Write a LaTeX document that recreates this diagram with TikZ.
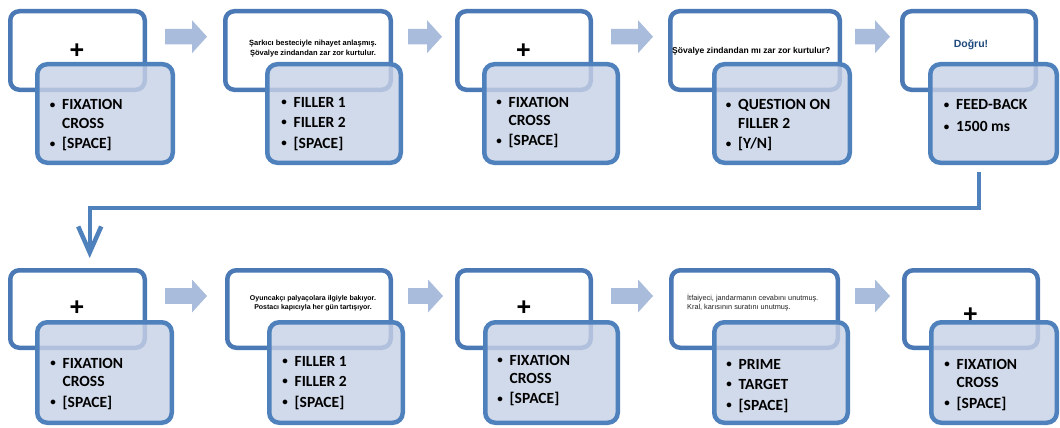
\documentclass[tikz,border=0pt]{standalone}
\usepackage{fontspec}
\setmainfont{Carlito}
\newfontfamily\arialfont{Liberation Sans}
\usetikzlibrary{arrows.meta}

\definecolor{screenedge}{HTML}{4A79B5}
\definecolor{paneledge}{HTML}{4F81BD}
\definecolor{panelfill}{RGB}{200,210,230}
\definecolor{chevron}{RGB}{169,188,219}
\definecolor{feedbackblue}{HTML}{1F497D}
\definecolor{linkblue}{HTML}{4F81BD}

% bullet marker and its indent for continuation lines
\newcommand\bul{\makebox[13.5pt][l]{\hspace{1.2pt}\raisebox{1.6pt}{\fontsize{11}{11}\selectfont•}}}
\newcommand\nob{\hspace*{13.5pt}}

% a screen (white) or panel (blue) box given by its outer pixel edges
\newcommand\slidebox[6]{%
  \node[#1, minimum width={#5-#3-4.5}, minimum height={#6-#4-4.5}]
    (#2) at ({(#3+#5)/2},{(#4+#6)/2}) {};}

% light block arrow pointing right between two screens
\newcommand\blockarrow[3]{%
  \fill[chevron] (#1,{#3-7.8}) -- ({#2-15},{#3-7.8}) -- ({#2-15},{#3-16.5})
    -- (#2,#3) -- ({#2-15},{#3+16.5}) -- ({#2-15},{#3+7.8}) -- (#1,{#3+7.8}) -- cycle;}

\tikzset{
  screen/.style={draw=screenedge, line width=4.5pt, rounded corners=9pt,
    fill=white, inner sep=0pt},
  panel/.style={draw=paneledge, line width=4.5pt, rounded corners=10pt,
    fill=panelfill, fill opacity=0.82, inner sep=0pt},
  bullets/.style={anchor=base west, inner sep=0pt,
    font=\bfseries\fontsize{15.5}{18.3}\selectfont},
  plus/.style={anchor=base, inner sep=0pt,
    font=\arialfont\bfseries\fontsize{25}{25}\selectfont},
  sentence/.style={inner sep=0pt, font=\arialfont\bfseries\fontsize{7.5}{10}\selectfont},
  link/.style={draw=linkblue, line width=4pt},
  linkshadow/.style={draw=black, line width=4pt, opacity=0.12},
}

\begin{document}
\begin{tikzpicture}[x=1pt, y=-1pt]
\useasboundingbox (0,0) rectangle (1060,428);
\fill[white] (0,0) rectangle (1060,428);

% ---------- first row ----------
\slidebox{screen}{s1}{8}{9}{147}{92}
\slidebox{panel}{p1}{35}{62}{175}{165}
\slidebox{screen}{s2}{223}{9}{393}{92}
\slidebox{panel}{p2}{265}{62}{403}{165}
\slidebox{screen}{s3}{455}{9}{593}{92}
\slidebox{panel}{p3}{482}{62}{620}{165}
\slidebox{screen}{s4}{668}{9}{842}{92}
\slidebox{panel}{p4}{712}{62}{852}{165}
\slidebox{screen}{s5}{900}{9}{1038}{92}
\slidebox{panel}{p5}{928}{62}{1059}{165}

\blockarrow{165}{207}{36.7}
\blockarrow{408}{442}{36.7}
\blockarrow{611}{653}{36.7}
\blockarrow{855}{890}{36.7}

\node[plus] (x1) at (77,58.8) {+};
\node[plus] (x3) at (523.5,58.8) {+};
\node[sentence, anchor=base] (q2) at (313,45.5)
  {\begin{tabular}[t]{@{}c@{}}Şarkıcı besteciyle nihayet anlaşmış.\\Şövalye zindandan zar zor kurtulur.\end{tabular}};
\node[sentence, anchor=base west, font=\arialfont\bfseries\fontsize{8.5}{10}\selectfont]
  (q4) at (672,53) {Şövalye zindandan mı zar zor kurtulur?};
\node[sentence, anchor=base, text=feedbackblue,
  font=\arialfont\bfseries\fontsize{10.5}{12}\selectfont] (q5) at (971,47.5) {Doğru!};

\node[bullets] (l1) at (48.5,110)
  {\begin{tabular}[t]{@{}l@{}}\bul FIXATION\\ \nob CROSS\\[2pt] \bul [SPACE]\end{tabular}};
\node[bullets] (l2) at (280,107)
  {\begin{tabular}[t]{@{}l@{}}\bul FILLER 1\\[2.2pt] \bul FILLER 2\\[2.2pt] \bul [SPACE]\end{tabular}};
\node[bullets] (l3) at (495,107)
  {\begin{tabular}[t]{@{}l@{}}\bul FIXATION\\ \nob CROSS\\[2pt] \bul [SPACE]\end{tabular}};
\node[bullets] (l4) at (724.5,110)
  {\begin{tabular}[t]{@{}l@{}}\bul QUESTION ON\\ \nob FILLER 2\\[2pt] \bul [Y/N]\end{tabular}};
\node[bullets] (l5) at (942.5,110)
  {\begin{tabular}[t]{@{}l@{}}\bul FEED-BACK\\[3.4pt] \bul 1500 ms\end{tabular}};

% ---------- link from the first row to the second ----------
\coordinate (linkstart) at (979,172);
\coordinate (linkturn) at (89.7,207.5);
\begin{scope}[xshift=1.5pt, yshift=-2.5pt]
  \draw[linkshadow] (linkstart) |- (linkturn) -- (linkturn |- 0,232);
\end{scope}
\slidebox{screen}{s6}{8}{268}{147}{350}
\draw[link, -{Straight Barb[length=26pt, width=23pt, line width=4.5pt]}, shorten >=10pt]
  (linkstart) |- (linkturn) -- (linkturn |- s6.north);

% ---------- second row ----------
\slidebox{panel}{p6}{35}{320}{174}{425}
\slidebox{screen}{s7}{225}{268}{393}{350}
\slidebox{panel}{p7}{267}{320}{405}{425}
\slidebox{screen}{s8}{455}{268}{593}{350}
\slidebox{panel}{p8}{483}{320}{620}{425}
\slidebox{screen}{s9}{669}{268}{840}{350}
\slidebox{panel}{p9}{712}{320}{850}{425}
\slidebox{screen}{s10}{902}{268}{1040}{350}
\slidebox{panel}{p10}{929}{320}{1059}{425}

\blockarrow{165}{207}{296}
\blockarrow{408}{443}{296}
\blockarrow{611}{653}{296}
\blockarrow{855}{890}{296}

\node[plus] (x6) at (77,315.8) {+};
\node[plus] (x8) at (524,315.8) {+};
\node[plus] (x10) at (970.3,322) {+};
\node[sentence, anchor=base, font=\arialfont\bfseries\fontsize{7}{9.5}\selectfont] (q7) at (313,300)
  {\begin{tabular}[t]{@{}c@{}}Oyuncakçı palyaçolara ilgiyle bakıyor.\\Postacı kapıcıyla her gün tartışıyor.\end{tabular}};
\node[sentence, anchor=base west, text=black!88, font=\arialfont\fontsize{7.3}{9.3}\selectfont] (q9) at (687,300)
  {\begin{tabular}[t]{@{}l@{}}İtfaiyeci, jandarmanın cevabını unutmuş.\\Kral, karısının suratını unutmuş.\end{tabular}};

\node[bullets] (l6) at (49,368)
  {\begin{tabular}[t]{@{}l@{}}\bul FIXATION\\ \nob CROSS\\[2.5pt] \bul [SPACE]\end{tabular}};
\node[bullets] (l7) at (281,366)
  {\begin{tabular}[t]{@{}l@{}}\bul FILLER 1\\[2.2pt] \bul FILLER 2\\[2.2pt] \bul [SPACE]\end{tabular}};
\node[bullets] (l8) at (496,365)
  {\begin{tabular}[t]{@{}l@{}}\bul FIXATION\\ \nob CROSS\\[2pt] \bul [SPACE]\end{tabular}};
\node[bullets] (l9) at (725,369)
  {\begin{tabular}[t]{@{}l@{}}\bul PRIME\\[2.2pt] \bul TARGET\\[2.2pt] \bul [SPACE]\end{tabular}};
\node[bullets] (l10) at (943,369)
  {\begin{tabular}[t]{@{}l@{}}\bul FIXATION\\ \nob CROSS\\[2.5pt] \bul [SPACE]\end{tabular}};
\end{tikzpicture}
\end{document}
